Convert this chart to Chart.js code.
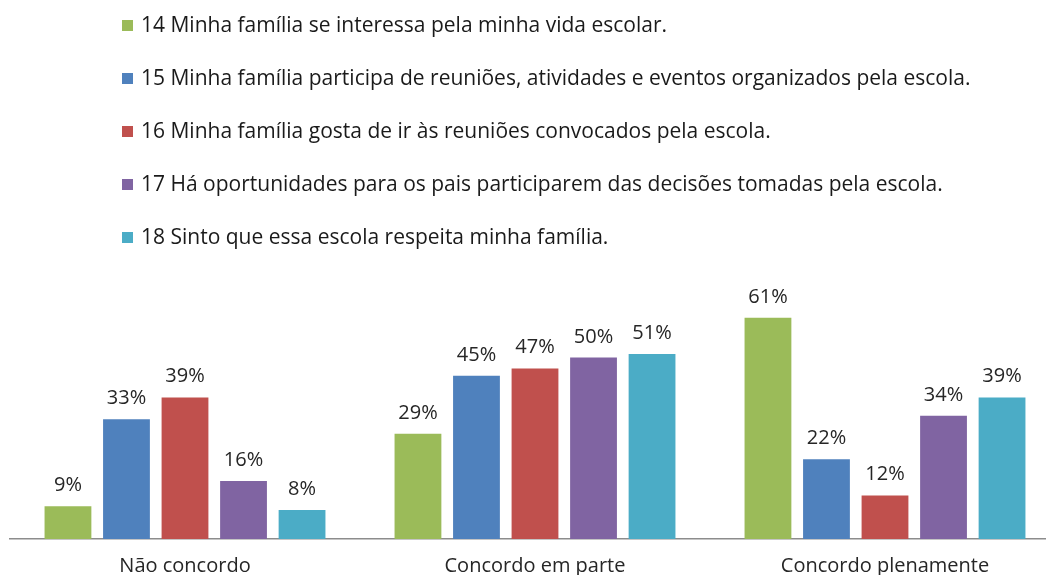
<!DOCTYPE html>
<html lang="pt-br">
<head>
    <meta charset="UTF-8">
    <title>Participação da família</title>
    <script src="https://cdn.jsdelivr.net/npm/chart.js"></script>
    <style>
        html, body {
            margin: 0;
            padding: 0;
            background: #fff;
            overflow: hidden;
            width: 1046px;
            height: 575px;
        }
        .wrap {
            position: relative;
            width: 1046px;
            height: 575px;
            overflow: hidden;
        }
        #legenda {
            position: absolute;
            left: 122px;
            top: 9px;
            font-family: 'Open Sans', sans-serif;
            font-size: 21px;
            color: #1a1a1a;
        }
        #legenda div {
            height: 53px;
            line-height: 30px;
            white-space: nowrap;
        }
        #legenda span.box {
            display: inline-block;
            width: 11px;
            height: 11px;
            margin-right: 8px;
            vertical-align: 1px;
        }
        canvas {
            position: absolute;
            left: 0;
            top: 0;
        }
    </style>
</head>
<body>
<div class="wrap">
    <canvas id="grafico" width="1062" height="593"></canvas>
    <div id="legenda"></div>
</div>
<script>
    const categorias = ['Não concordo', 'Concordo em parte', 'Concordo plenamente'];
    const series = [
        '14 Minha família se interessa pela minha vida escolar.',
        '15 Minha família participa de reuniões, atividades e eventos organizados pela escola.',
        '16 Minha família gosta de ir às reuniões convocados pela escola.',
        '17 Há oportunidades para os pais participarem das decisões tomadas pela escola.',
        '18 Sinto que essa escola respeita minha família.'
    ];
    const q14 = [9, 29, 61];
    const q15 = [33, 45, 22];
    const q16 = [39, 47, 12];
    const q17 = [16, 50, 34];
    const q18 = [8, 51, 39];
    const cores = ['#9BBB59', '#4F81BD', '#C0504D', '#8064A2', '#4BACC6'];

    const valores = [q14, q15, q16, q17, q18];

    // rótulos de porcentagem em cima das barras
    const rotulos = {
        id: 'rotulos',
        afterDatasetsDraw(chart) {
            const ctx = chart.ctx;
            ctx.save();
            ctx.font = '20px "Open Sans", sans-serif';
            ctx.fillStyle = '#262626';
            ctx.textAlign = 'center';
            ctx.textBaseline = 'alphabetic';
            chart.data.datasets.forEach((ds, i) => {
                chart.getDatasetMeta(i).data.forEach((bar, j) => {
                    ctx.fillText(ds.data[j] + '%', bar.x, bar.y - 15);
                });
            });
            ctx.restore();
        }
    };

    const grafico = new Chart(document.getElementById('grafico'), {
        type: 'bar',
        data: {
            labels: categorias,
            datasets: series.map((nome, i) => ({
                label: nome,
                data: valores[i],
                backgroundColor: cores[i],
                categoryPercentage: 0.836,
                barPercentage: 0.80
            }))
        },
        options: {
            responsive: false,
            animation: false,
            layout: {
                padding: { top: 285, left: 10, right: 2, bottom: 0 }
            },
            plugins: {
                legend: { display: false },
                tooltip: { enabled: false }
            },
            scales: {
                x: {
                    grid: { display: false, drawTicks: false },
                    border: { display: true, color: '#8c8c8c', width: 1.5 },
                    ticks: {
                        color: '#262626',
                        font: { family: 'Open Sans', size: 20 },
                        padding: 15
                    }
                },
                y: {
                    display: false,
                    min: 0,
                    max: 70
                }
            }
        },
        plugins: [rotulos]
    });

    // legenda em lista vertical
    const leg = document.getElementById('legenda');
    grafico.data.datasets.forEach(ds => {
        const linha = document.createElement('div');
        linha.innerHTML = '<span class="box" style="background:' + ds.backgroundColor + '"></span>' + ds.label;
        leg.appendChild(linha);
    });
</script>
</body>
</html>
